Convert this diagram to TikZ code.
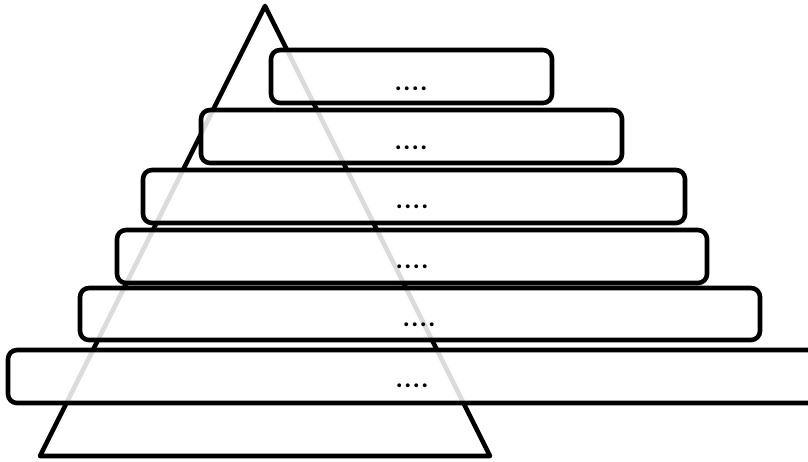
\documentclass[tikz,border=0pt]{standalone}
\usepackage{fontspec}
\setmainfont{Carlito}
\begin{document}
\begin{tikzpicture}[x=1pt,y=-1pt,
  tri/.style={line width=4.6pt,line join=round,line cap=round},
  bar/.style={line width=4.6pt,rounded corners=9pt,fill=white,fill opacity=0.86},
  lbl/.style={anchor=base,font=\fontsize{26}{28}\bfseries\selectfont\addfontfeature{LetterSpace=6}}]
\useasboundingbox (0,0) rectangle (808,461);
\coordinate (apex) at (265,6);
\coordinate (bl) at (40,456);
\coordinate (br) at (490,456);
\draw[tri] (apex) -- (br) -- (bl) -- cycle;
\draw[bar] (271,50) rectangle (552,103);
\draw[bar] (201,110) rectangle (622,163);
\draw[bar] (143,170) rectangle (685,223);
\draw[bar] (117,230) rectangle (707,283);
\draw[bar] (80,288) rectangle (760,340);
\draw[bar] (8,350) rectangle (830,403);
\node[lbl] (t1) at (411,90) {....};
\node[lbl] (t2) at (411,149) {....};
\node[lbl] (t3) at (412,208) {....};
\node[lbl] (t4) at (412,268) {....};
\node[lbl] (t5) at (419,326) {....};
\node[lbl] (t6) at (412,387) {....};
\end{tikzpicture}
\end{document}
